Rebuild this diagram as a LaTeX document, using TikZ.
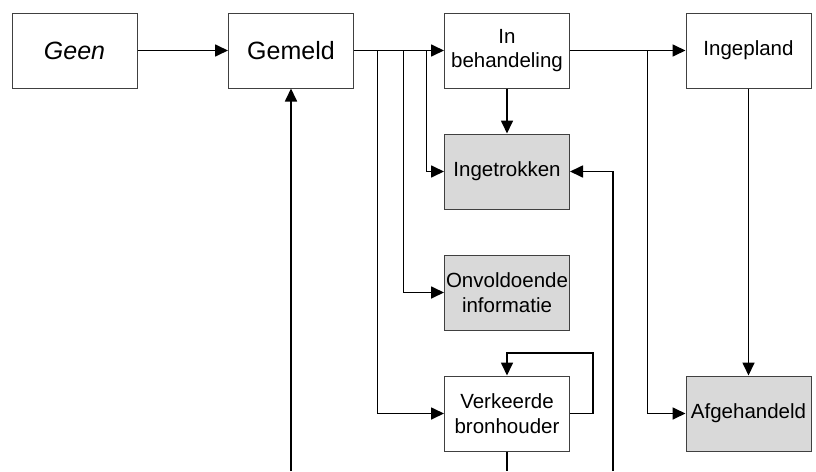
\documentclass[tikz,border=0pt]{standalone}
\usepackage{fontspec}
\setmainfont{Liberation Sans}
\usepackage{xcolor}
\usetikzlibrary{arrows.meta}

\definecolor{boxgray}{HTML}{D9D9D9}

\begin{document}
\begin{tikzpicture}[x=1pt,y=-1pt]
\tikzset{state/.style={draw=black!75,line width=1pt,minimum width=125pt,minimum height=75pt,inner sep=0pt,align=center,font=\fontsize{20.5}{24.6}\selectfont}}
\tikzset{closed/.style={state,fill=boxgray}}
\tikzset{big/.style={font=\fontsize{25}{30}\selectfont}}
\tikzset{conn/.style={line width=1.7pt,-{Triangle[length=13pt,width=12pt]}}}
\tikzset{line/.style={line width=1.7pt}}

\useasboundingbox (0,0) rectangle (816,471);

% top row
\node[state,big] (geen) at (74.5,50.5) {\itshape Geen};
\node[state,big] (gemeld) at (291,50.5) {Gemeld};
\node[state] (behandeling) at (507,50.5) {In\\behandeling};
\node[state] (ingepland) at (748.5,50.5) {Ingepland};

% column below
\node[closed] (ingetrokken) at (507,171.5) {Ingetrokken};
\node[closed] (onvoldoende) at (507,292.5) {Onvoldoende\\informatie};
\node[state] (verkeerde) at (507,413.5) {Verkeerde\\bronhouder};
\node[closed] (afgehandeld) at (748.5,413.5) {Afgehandeld};

\coordinate (loop) at (593,353);
\coordinate (up) at (291,471);
\coordinate (down) at (507,471);
\coordinate (back) at (613,471);

\draw[conn] (geen) -- (gemeld);
\draw[conn] (gemeld) -- (behandeling);
\draw[conn] (gemeld.east) ++(23.5,0) |- (verkeerde.west);
\draw[conn] (gemeld.east) ++(49.5,0) |- (onvoldoende.west);
\draw[conn] (gemeld.east) ++(72.5,0) |- (ingetrokken.west);
\draw[conn] (behandeling) -- (ingetrokken);
\draw[conn] (behandeling) -- (ingepland);
\draw[conn] (behandeling.east) ++(77.5,0) |- (afgehandeld.west);
\draw[conn] (ingepland) -- (afgehandeld);
\draw[conn] (verkeerde.east) -| (loop) -| (verkeerde.north);
\draw[line] (verkeerde.south) -- (down);
\draw[conn] (back) |- (ingetrokken.east);
\draw[conn] (up) -- (gemeld.south);

\end{tikzpicture}
\end{document}
